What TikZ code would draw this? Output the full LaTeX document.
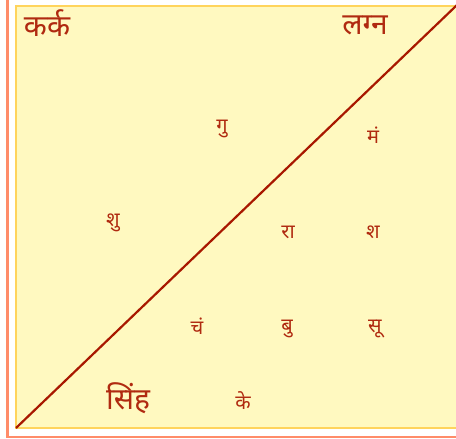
\documentclass[tikz,border=0pt]{standalone}
\usepackage{fontspec}
\newfontfamily\deva[Script=Devanagari]{Noto Sans}
\definecolor{frameor}{HTML}{FF8C69}
\definecolor{boxfill}{HTML}{FFF9C0}
\definecolor{boxedge}{HTML}{FFD45C}
\definecolor{txt}{HTML}{B02A10}
\definecolor{diag}{HTML}{A81800}
\tikzset{
  small/.style={text=txt, font=\deva\fontsize{20}{22}\selectfont, inner sep=0pt},
  big/.style={text=txt, font=\deva\fontsize{30}{32}\selectfont, inner sep=0pt},
}
\begin{document}
\begin{tikzpicture}[x=1pt,y=-1pt]
\useasboundingbox (0,0) rectangle (456,439);
\fill[white] (0,0) rectangle (456,439);
\draw[frameor, line width=2.5pt] (7.5,-5) -- (7.5,437) -- (470,437);
\draw[boxedge, fill=boxfill, line width=2pt] (15.5,5.5) rectangle (470,428);
\coordinate (bl) at (16,428);
\coordinate (tr) at (457,5);
\draw[diag, line width=2.2pt] (bl) -- (tr);
\node[big] (kark) at (47,23) {कर्क};
\node[big] (lagna) at (365,25) {लग्न};
\node[big] (simha) at (128,398) {सिंह};
\node[small] (gu) at (222,129) {गु};
\node[small] (man) at (373,135) {मं};
\node[small] (shu) at (113,223) {शु};
\node[small] (ra) at (288,232) {रा};
\node[small] (sha) at (373,232) {श};
\node[small] (chan) at (197,326) {चं};
\node[small] (bu) at (287,329) {बु};
\node[small] (su) at (375,329) {सू};
\node[small] (ke) at (243,401) {के};
\end{tikzpicture}
\end{document}
